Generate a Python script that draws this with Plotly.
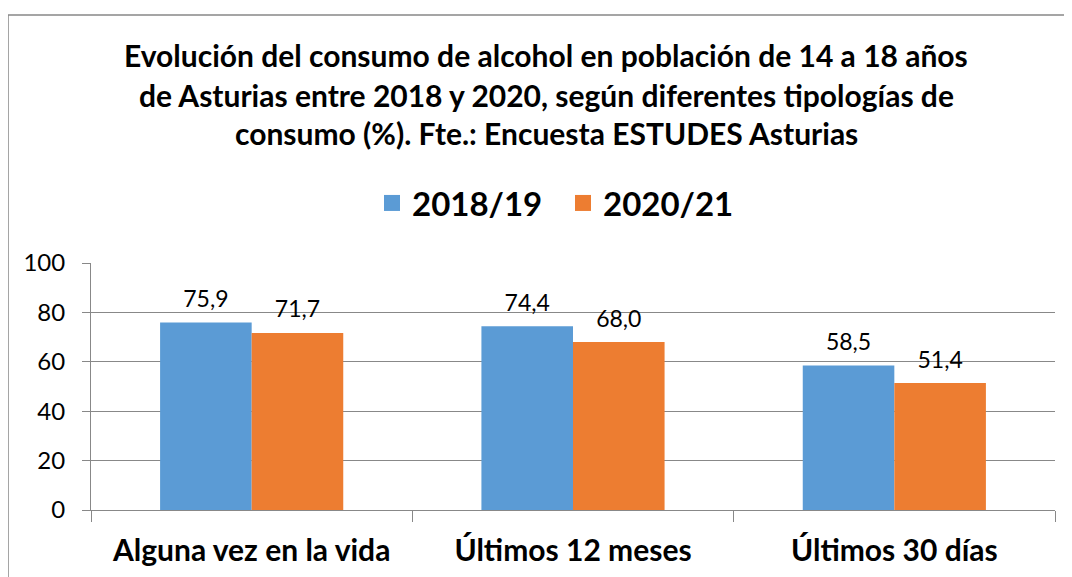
import plotly.graph_objects as go

categories = ["Alguna vez en la vida", "Últimos 12 meses", "Últimos 30 días"]
series_names = ["2018/19", "2020/21"]
values_2018 = [75.9, 74.4, 58.5]
values_2020 = [71.7, 68.0, 51.4]
colors = ["#5B9BD5", "#ED7D31"]
title_lines = [
    "Evolución del consumo de alcohol en población de 14 a 18 años",
    "de Asturias entre 2018 y 2020, según diferentes tipologías de",
    "consumo (%). Fte.: Encuesta ESTUDES Asturias",
]
y_ticks = [0, 20, 40, 60, 80, 100]

FONT = "Lato"
OFF = 8  # page body margin
W, H = 1072 - OFF, 577 - OFF
# target plot area in screen pixels: x 91..1055, y 263..510
L, R = 91 - OFF, 1072 - 1055
T, B = 263 - OFF, 577 - 510
pw, ph = W - L - R, H - T - B

def py(y):  # screen y pixel -> paper y
    return (H - B - (y - OFF)) / ph

def pxx(x):  # screen x pixel -> paper x
    return (x - OFF - L) / pw

fig = go.Figure()
groups = ["g1", "g2"]
for name, vals, col, grp in zip(series_names, [values_2018, values_2020], colors, groups):
    fig.add_trace(go.Bar(
        x=categories, y=vals, name=name, marker_color=col,
        marker_line_width=0, offsetgroup=grp,
        showlegend=False, hoverinfo="x+y",
    ))
for name, vals, col, grp in zip(series_names, [values_2018, values_2020], colors, groups):
    fig.add_trace(go.Scatter(
        x=categories, y=vals, mode="markers+text", offsetgroup=grp,
        text=[f"{v:.1f}".replace(".", ",") for v in vals],
        textposition="top center",
        textfont=dict(family=FONT, size=23, color="#000000"),
        marker=dict(size=14, color="rgba(0,0,0,0)"),
        cliponaxis=False, showlegend=False, hoverinfo="skip",
    ))
for name, col, grp in zip(series_names, colors, groups):
    fig.add_trace(go.Scatter(
        x=[None], y=[None], mode="markers", name=name, offsetgroup=grp,
        marker=dict(symbol="square", size=16, color=col),
        showlegend=True,
    ))

annotations = []
for line, ypix in zip(title_lines, [55, 95, 133]):
    annotations.append(dict(
        text="<b>" + line + "</b>", x=pxx(546), y=py(ypix),
        xref="paper", yref="paper", xanchor="center", yanchor="middle",
        showarrow=False, font=dict(family=FONT, size=30, color="#000000"),
    ))

fig.update_layout(
    width=W, height=H,
    margin=dict(l=L, r=R, t=T, b=B, autoexpand=False),
    paper_bgcolor="white", plot_bgcolor="white",
    separators=",.",
    barmode="group", bargap=0.43, bargroupgap=0,
    scattermode="group", scattergap=0.43,
    annotations=annotations,
    legend=dict(
        orientation="h", x=pxx(563), y=py(203),
        xanchor="center", yanchor="middle",
        font=dict(family=FONT, size=33, color="#000000", weight="bold"),
        itemwidth=30, entrywidth=146, traceorder="normal",
    ),
    shapes=[dict(
        type="rect", xref="paper", yref="paper",
        x0=pxx(8), x1=pxx(1100), y0=py(600), y1=py(15),
        line=dict(color="#888888", width=1.5), fillcolor="rgba(0,0,0,0)",
        layer="below",
    )],
    xaxis=dict(
        type="category", showline=True, linecolor="#888888", linewidth=1,
        ticks="outside", tickson="boundaries", ticklen=11, tickcolor="#888888",
        tickfont=dict(family=FONT, size=30, color="#000000", weight="bold"),
        ticklabelstandoff=14, automargin=False,
        showgrid=False, fixedrange=True,
    ),
    yaxis=dict(
        range=[0, 100], tickvals=y_ticks, showline=True, linecolor="#888888",
        linewidth=1, ticks="outside", ticklen=8, tickcolor="#888888",
        gridcolor="#888888", gridwidth=1, zeroline=False,
        tickfont=dict(family=FONT, size=24, color="#000000"),
        ticklabelstandoff=12, automargin=False,
        fixedrange=True,
    ),
)

fig.write_html("out.html")
